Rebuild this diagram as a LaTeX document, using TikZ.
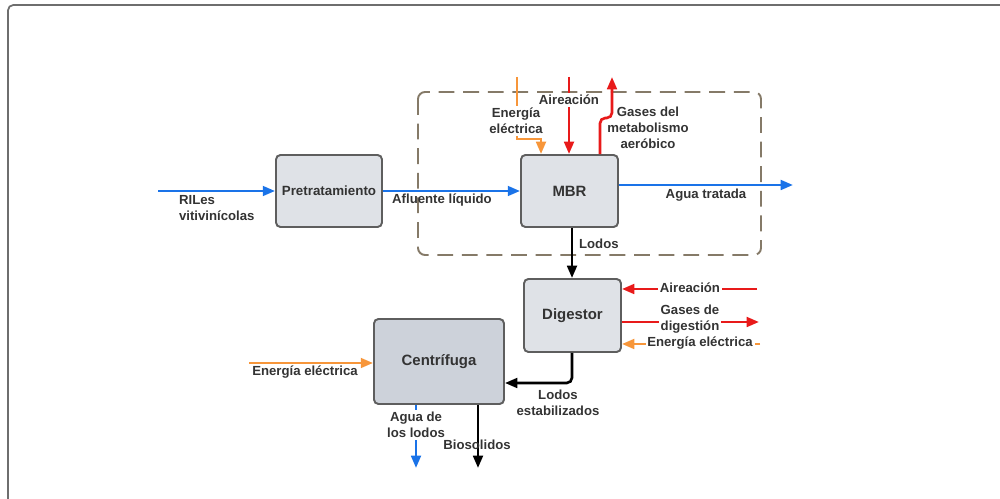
\documentclass[tikz,border=0pt]{standalone}
\usepackage{fontspec}
\setmainfont{Liberation Sans}
\usetikzlibrary{arrows.meta}
\definecolor{flowblue}{HTML}{1A73E8}
\definecolor{flowred}{HTML}{E81A1A}
\definecolor{floworange}{HTML}{F7963A}
\definecolor{boxfill}{HTML}{DFE2E7}
\definecolor{boxfilldark}{HTML}{CDD2DA}
\definecolor{boxline}{HTML}{5E5E5E}
\definecolor{textgray}{HTML}{333333}
\definecolor{zoneline}{HTML}{857A68}
\definecolor{framegray}{HTML}{6E6E6E}
\tikzset{
  unit/.style={draw=boxline, line width=1.1pt, fill=boxfill, rounded corners=2.5pt,
    text=textgray, font=\fontsize{8.5}{10}\selectfont\bfseries},
  flow/.style={line width=1.5pt, -{Triangle[length=7pt,width=5.5pt]}},
  plain/.style={line width=1.5pt},
  lbl/.style={text=textgray, inner sep=1pt, align=center},
  lblw/.style={lbl, fill=white},
}
\begin{document}
\begin{tikzpicture}[x=0.02cm, y=-0.02cm, font=\fontsize{7.5}{9}\selectfont\bfseries]
\useasboundingbox (0,0) rectangle (1000,499);

% outer frame
\draw[framegray, line width=1pt, rounded corners=3pt] (8,520) -- (8,5) -- (1020,5);

% MBR zone
\draw[zoneline, line width=1.1pt, dash pattern=on 9pt off 5pt, rounded corners=4pt]
  (418,92) rectangle (761,255);

% process units
\node[unit, minimum width=2.04cm, minimum height=1.44cm, font=\fontsize{7.6}{9}\selectfont\bfseries]
  (pre) at (329,191) {Pretratamiento};
\node[unit, minimum width=1.94cm, minimum height=1.44cm] (mbr) at (569.5,191) {MBR};
\node[unit, minimum width=1.94cm, minimum height=1.46cm] (dig) at (572.5,315.5) {Digestor};
\node[unit, fill=boxfilldark, minimum width=2.6cm, minimum height=1.7cm] (cen) at (439,361.5) {Centrífuga};

% free ends
\coordinate (rilIn) at (158,191);
\coordinate (aguaOut) at (793,185);
\coordinate (eTop) at (517,77);
\coordinate (eBend) at (517,139);
\coordinate (eCorner) at (541,139);
\coordinate (aTop) at (569,77);
\coordinate (gBend) at (600,118);
\coordinate (gTop) at (612,77);
\coordinate (daIn) at (757,289);
\coordinate (dgOut) at (759,322);
\coordinate (deIn) at (760,344);
\coordinate (lodoBend) at (572,383);
\coordinate (ceIn) at (249,363);
\coordinate (alOut) at (416,468);
\coordinate (bioOut) at (478,468);

% liquid line
\draw[flow, flowblue] (rilIn) -- (pre.west |- rilIn);
\draw[flow, flowblue] (pre.east |- rilIn) -- (mbr.west |- rilIn);
\draw[flow, flowblue] (mbr.east |- aguaOut) -- (aguaOut);

% MBR inputs and outputs
\draw[flow, floworange] (eTop) -- (eBend) -- (eCorner) -- (eCorner |- mbr.north);
\draw[flow, flowred] (aTop) -- (aTop |- mbr.north);
\draw[flow, flowred, rounded corners=3pt] (gBend |- mbr.north) -- (gBend) -- (gTop |- gBend) -- (gTop);
\draw[flow, black] (mbr.south -| 572,0) -- (dig.north -| 572,0);

% digester inputs and outputs
\draw[flow, flowred] (daIn) -- (dig.east |- daIn);
\draw[flow, flowred] (dig.east |- dgOut) -- (dgOut);
\draw[flow, floworange] (deIn) -- (dig.east |- deIn);
\draw[flow, black, rounded corners=3pt] (dig.south -| lodoBend) -- (lodoBend) -- (cen.east |- lodoBend);

% centrifuge inputs and outputs
\draw[flow, floworange] (ceIn) -- (cen.west |- ceIn);
\draw[flow, flowblue] (cen.south -| alOut) -- (alOut);
\draw[flow, black] (cen.south -| bioOut) -- (bioOut);

% labels
\node[lbl, align=left, anchor=west] (tRil) at (177,208) {RILes\\vitivinícolas};
\node[lbl] (tAfl) at (442,200) {Afluente líquido};
\node[lbl] (tAgua) at (706,195) {Agua tratada};
\node[lblw] (tEne) at (516,121) {Energía\\eléctrica};
\node[lblw] (tAir) at (569,100) {Aireación};
\node[lbl] (tGas) at (648,128) {Gases del\\metabolismo\\aeróbico};
\node[lbl, anchor=west] (tLodos) at (577,244) {Lodos};
\node[lblw] (tDAir) at (690,288) {Aireación};
\node[lblw] (tDGas) at (690,319) {Gases de\\digestión};
\node[lblw] (tDEne) at (700,343) {Energía eléctrica};
\node[lbl] (tLest) at (558,403) {Lodos\\estabilizados};
\node[lbl] (tCEne) at (305,372) {Energía eléctrica};
\node[lblw] (tAL) at (416,425) {Agua de\\los lodos};
\node[lbl] (tBio) at (477,445) {Biosolidos};
\end{tikzpicture}
\end{document}
